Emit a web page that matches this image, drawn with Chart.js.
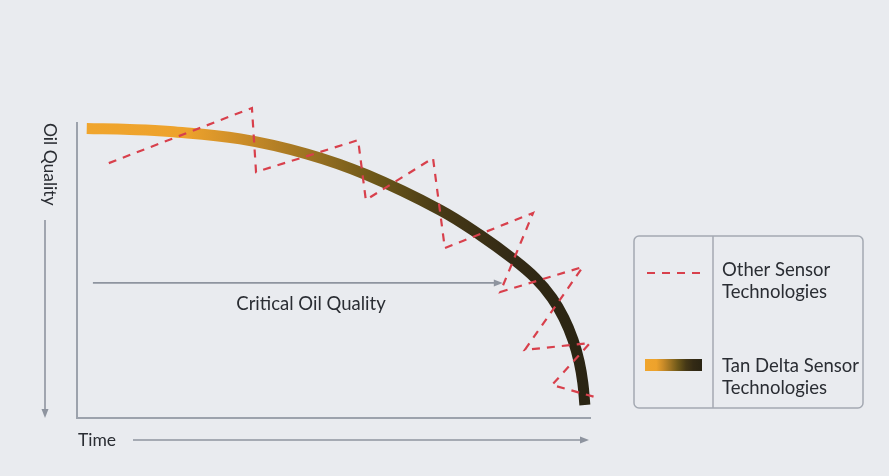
<!DOCTYPE html>
<html><head><meta charset="utf-8">
<script src="https://cdn.jsdelivr.net/npm/chart.js@4.4.0/dist/chart.umd.min.js"></script>
<style>
html,body{margin:0;padding:0;background:#e9ebef;}
#wrap{position:relative;width:889px;height:476px;}
</style>
</head><body>
<div id="wrap"><canvas id="c"></canvas></div>
<script>
// Tan Delta sensor curve (time vs oil quality, 0-100 scale)
const curveTime    = [1.9, 10.3, 18.1, 31.8, 44.8, 56.5, 70.8, 78.6, 85.0, 89.3, 92.6, 94.9, 96.7, 97.9, 98.6, 99.0];
const curveQuality = [98.1, 97.8, 97.1, 94.6, 89.5, 82.4, 70.5, 62.0, 53.9, 47.5, 40.7, 33.9, 26.4, 19.0, 11.9, 4.4];
// Other sensor technologies (zig-zag readings)
const otherTime    = [6.2, 34.1, 34.9, 54.8, 56.3, 69.4, 71.7, 88.9, 82.5, 98.6, 87.3, 100.0, 92.6, 101.6];
const otherQuality = [86.4, 105.1, 83.4, 94.2, 73.9, 88.1, 57.6, 69.5, 42.7, 51.2, 23.1, 25.4, 11.2, 6.8];
// Critical oil quality marker
const criticalQuality = 45.8;
const criticalFrom = 3.1;
const criticalTo = 83.0;
// Texts
const xAxisLabel = 'Time';
const yAxisLabel = 'Oil Quality';
const criticalLabel = 'Critical Oil Quality';
const otherLabelLines = ['Other Sensor', 'Technologies'];
const tanLabelLines = ['Tan Delta Sensor', 'Technologies'];

const AXIS = '#9ca2ac';
const ARROW = '#8e949f';
const TEXT = '#2a2d33';
const DASH = '#d8404c';
const FONT = 'Lato, "Open Sans", sans-serif';

function gradStops(g){
  g.addColorStop(0, '#f0a52d');
  g.addColorStop(0.2, '#eda22c');
  g.addColorStop(0.32, '#c98b28');
  g.addColorStop(0.45, '#9b7222');
  g.addColorStop(0.58, '#6c5719');
  g.addColorStop(0.72, '#453816');
  g.addColorStop(0.85, '#332a15');
  g.addColorStop(1, '#2a2413');
  return g;
}

function arrow(ctx, x1, y1, x2, y2){
  const ang = Math.atan2(y2 - y1, x2 - x1);
  const L = 9, W = 3.5;
  ctx.save();
  ctx.strokeStyle = ARROW; ctx.fillStyle = ARROW; ctx.lineWidth = 1.6;
  ctx.beginPath(); ctx.moveTo(x1, y1);
  ctx.lineTo(x2 - Math.cos(ang) * L * 0.8, y2 - Math.sin(ang) * L * 0.8); ctx.stroke();
  ctx.beginPath();
  ctx.moveTo(x2, y2);
  ctx.lineTo(x2 - Math.cos(ang) * L - Math.sin(ang) * W, y2 - Math.sin(ang) * L + Math.cos(ang) * W);
  ctx.lineTo(x2 - Math.cos(ang) * L + Math.sin(ang) * W, y2 - Math.sin(ang) * L - Math.cos(ang) * W);
  ctx.closePath(); ctx.fill();
  ctx.restore();
}

const decor = {
  id: 'decor',
  afterDraw(chart){
    const ctx = chart.ctx;
    const a = chart.chartArea;
    const xs = chart.scales.x, ys = chart.scales.y;
    ctx.save();
    ctx.fillStyle = TEXT;
    // Y label (rotated, reading top to bottom)
    ctx.save();
    ctx.translate(a.left - 27, a.top);
    ctx.rotate(Math.PI / 2);
    ctx.font = '17.5px ' + FONT;
    ctx.textBaseline = 'middle'; ctx.textAlign = 'left';
    ctx.fillText(yAxisLabel, 0, 0);
    ctx.restore();
    arrow(ctx, a.left - 32, a.top + 97, a.left - 32, a.bottom);
    // X label
    ctx.font = '17.5px ' + FONT;
    ctx.textBaseline = 'middle'; ctx.textAlign = 'left';
    ctx.fillText(xAxisLabel, a.left + 1, a.bottom + 22);
    arrow(ctx, a.left + 56, a.bottom + 22, a.right - 1, a.bottom + 22);
    // Critical level arrow
    const cy = ys.getPixelForValue(criticalQuality);
    arrow(ctx, xs.getPixelForValue(criticalFrom), cy, xs.getPixelForValue(criticalTo), cy);
    ctx.fillStyle = TEXT;
    ctx.textAlign = 'center';
    ctx.font = '18.5px ' + FONT;
    ctx.fillText(criticalLabel, 311, cy + 21);
    // Legend box
    const bx = 634, by = 236, bw = 229, bh = 172, div = 713;
    ctx.strokeStyle = '#a4a9b2'; ctx.lineWidth = 1.5;
    ctx.beginPath(); ctx.roundRect(bx, by, bw, bh, 5); ctx.stroke();
    ctx.beginPath(); ctx.moveTo(div, by); ctx.lineTo(div, by + bh); ctx.stroke();
    // dashed sample
    ctx.save();
    ctx.strokeStyle = DASH; ctx.lineWidth = 2.2; ctx.setLineDash([8, 7]);
    ctx.beginPath(); ctx.moveTo(647, 273); ctx.lineTo(702, 273); ctx.stroke();
    ctx.restore();
    // gradient swatch
    const g = gradStops(ctx.createLinearGradient(645, 0, 702, 0));
    ctx.fillStyle = g; ctx.fillRect(645, 359, 57, 12);
    // legend texts
    ctx.fillStyle = TEXT; ctx.font = '18.5px ' + FONT;
    ctx.textAlign = 'left'; ctx.textBaseline = 'middle';
    ctx.fillText(otherLabelLines[0], 722, 270);
    ctx.fillText(otherLabelLines[1], 722, 292);
    ctx.fillText(tanLabelLines[0], 722, 366);
    ctx.fillText(tanLabelLines[1], 722, 388);
    ctx.restore();
  }
};

const ctx = document.getElementById('c');
new Chart(ctx, {
  type: 'line',
  data: {
    datasets: [
      {
        label: otherLabelLines.join(' '),
        data: otherTime.map((t, i) => ({x: t, y: otherQuality[i]})),
        borderColor: DASH,
        borderWidth: 2.2,
        borderDash: [8, 7],
        pointRadius: 0,
        tension: 0,
        clip: false,
        order: 0
      },
      {
        label: tanLabelLines.join(' '),
        data: curveTime.map((t, i) => ({x: t, y: curveQuality[i]})),
        borderColor: (c) => {
          const chart = c.chart;
          if (!chart.chartArea) return '#f0a52d';
          const xs = chart.scales.x;
          const x0 = xs.getPixelForValue(curveTime[0]);
          const x1 = xs.getPixelForValue(curveTime[curveTime.length - 1]);
          return gradStops(chart.ctx.createLinearGradient(x0, 0, x1, 0));
        },
        borderWidth: 11,
        borderCapStyle: 'butt',
        borderJoinStyle: 'round',
        pointRadius: 0,
        tension: 0.4,
        clip: false,
        order: 1
      }
    ]
  },
  options: {
    responsive: true,
    maintainAspectRatio: false,
    animation: false,
    events: [],
    layout: { autoPadding: false, padding: { left: 77, right: 299, top: 123, bottom: 58 } },
    plugins: { legend: { display: false }, tooltip: { enabled: false } },
    scales: {
      x: {
        type: 'linear', min: 0, max: 100,
        ticks: { display: false },
        grid: { display: false, drawTicks: false },
        border: { display: true, color: AXIS, width: 2 }
      },
      y: {
        type: 'linear', min: 0, max: 100,
        ticks: { display: false },
        grid: { display: false, drawTicks: false },
        border: { display: true, color: AXIS, width: 2 }
      }
    }
  },
  plugins: [decor]
});
</script>
</body></html>
